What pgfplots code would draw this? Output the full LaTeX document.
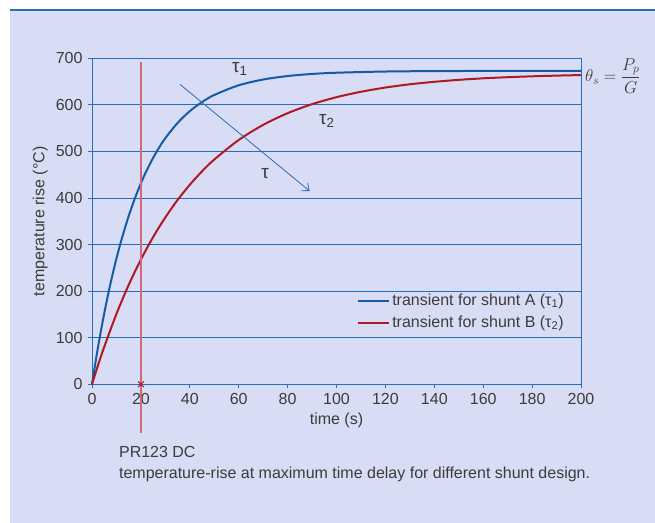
\documentclass[border=0pt]{standalone}
\usepackage{fontspec}
\setmainfont{Liberation Sans}
\usepackage{pgfplots}
\pgfplotsset{compat=1.18}
\usetikzlibrary{arrows.meta}
\definecolor{bg}{RGB}{216,220,244}
\definecolor{axblue}{RGB}{40,110,180}
\definecolor{cblue}{RGB}{22,92,165}
\definecolor{cred}{RGB}{175,25,35}
\definecolor{vred}{RGB}{205,105,120}
\definecolor{txt}{RGB}{60,60,60}
\begin{document}
\fontsize{16bp}{19bp}\selectfont
\begin{tikzpicture}[x=1bp,y=1bp]
\useasboundingbox (0,0) rectangle (655,523);
\fill[white] (0,0) rectangle (655,523);
\fill[bg] (10,0) rectangle (655,513);
\draw[axblue, line width=1.2bp] (10,513) -- (655,513);
\begin{axis}[
  at={(92bp,138.7bp)}, anchor=south west,
  scale only axis, width=489bp, height=326bp,
  xmin=0, xmax=200, ymin=0, ymax=700,
  xtick={0,20,...,200}, ytick={0,100,...,700},
  axis line style={axblue, line width=0.9bp},
  ymajorgrids, grid style={axblue, line width=0.9bp},
  tick style={axblue, line width=0.9bp},
  tick align=outside, major tick length=4bp,
  xtick pos=left, ytick pos=left,
  /pgf/number format/assume math mode=true,
  tick label style={font=\fontsize{16bp}{18bp}\selectfont, text=txt},
  xlabel={time (s)}, ylabel={temperature rise (°C)},
  label style={font=\fontsize{16bp}{18bp}\selectfont, text=txt},
  xlabel style={at={(axis description cs:0.5,-0.11)}, anchor=center},
  ylabel style={at={(axis description cs:-0.106,0.5)}, anchor=center},
  clip=false,
  legend style={draw=none, fill=none, at={(0.975,0.155)}, anchor=south east,
    font=\fontsize{16bp}{18bp}\selectfont, text=txt, row sep=4bp},
  legend cell align=left,
  legend image code/.code={\draw[#1] (0bp,0bp) -- (31bp,0bp);},
]
\addplot[cblue, line width=2bp, smooth] coordinates {
(0,0) (2,65.6) (4,124.8) (6,178.2) (8,226.6) (10,270.0) (12,309.3) (15,361.2)
(18,405.6) (21,443.8) (24,476.4) (27,504.5) (30,528.5) (35,561.2) (40,586.5)
(45,606.0) (50,621.2) (60,642.0) (70,654.4) (80,661.9) (90,666.4) (100,669.0)
(120,671.6) (140,672.5) (160,672.8) (180,672.9) (200,673.0)};
\addlegendentry{transient for shunt A (τ\textsubscript{1})}
\addplot[cred, line width=2bp, smooth] coordinates {
(0,0) (2,33.4) (5,80.3) (10,151.1) (15,213.3) (20,268.0) (25,316.1) (30,358.4)
(35,395.8) (40,428.4) (45,457.3) (50,482.6) (60,524.6) (70,557.0) (80,582.1)
(90,601.5) (100,616.5) (110,628.1) (120,637.2) (130,644.2) (140,649.5)
(150,653.7) (160,657.0) (170,659.4) (180,661.3) (190,662.8) (200,664.0)};
\addlegendentry{transient for shunt B (τ\textsubscript{2})}
\addplot[vred, line width=1.3bp, forget plot] coordinates {(20,693) (20,-105)};
\addplot[only marks, mark=x, mark size=4bp, cred, mark options={line width=1bp}, forget plot] coordinates {(20,0)};
\addplot[axblue, line width=0.8bp, -{Straight Barb[length=6bp,width=10bp]}, forget plot] coordinates {(36,644) (89,415)};
\node[text=txt, font=\fontsize{19bp}{21bp}\selectfont] at (axis cs:60.5,678) {τ\textsubscript{1}};
\node[text=txt, font=\fontsize{19bp}{21bp}\selectfont] at (axis cs:96,565) {τ\textsubscript{2}};
\node[text=txt, font=\fontsize{19bp}{21bp}\selectfont] at (axis cs:70.8,453) {τ};
\node[text=txt, anchor=west, inner sep=0pt, font=\fontsize{17bp}{20bp}\selectfont] at (axis cs:200,662) {\hspace{4bp}$\theta_s = {\displaystyle\frac{P_p}{G}}$};
\node[text=txt, anchor=west, inner sep=0pt] at (axis cs:11,-145) {PR123 DC};
\node[text=txt, anchor=west, inner sep=0pt] at (axis cs:11,-193) {temperature-rise at maximum time delay for different shunt design.};
\end{axis}
\end{tikzpicture}
\end{document}
